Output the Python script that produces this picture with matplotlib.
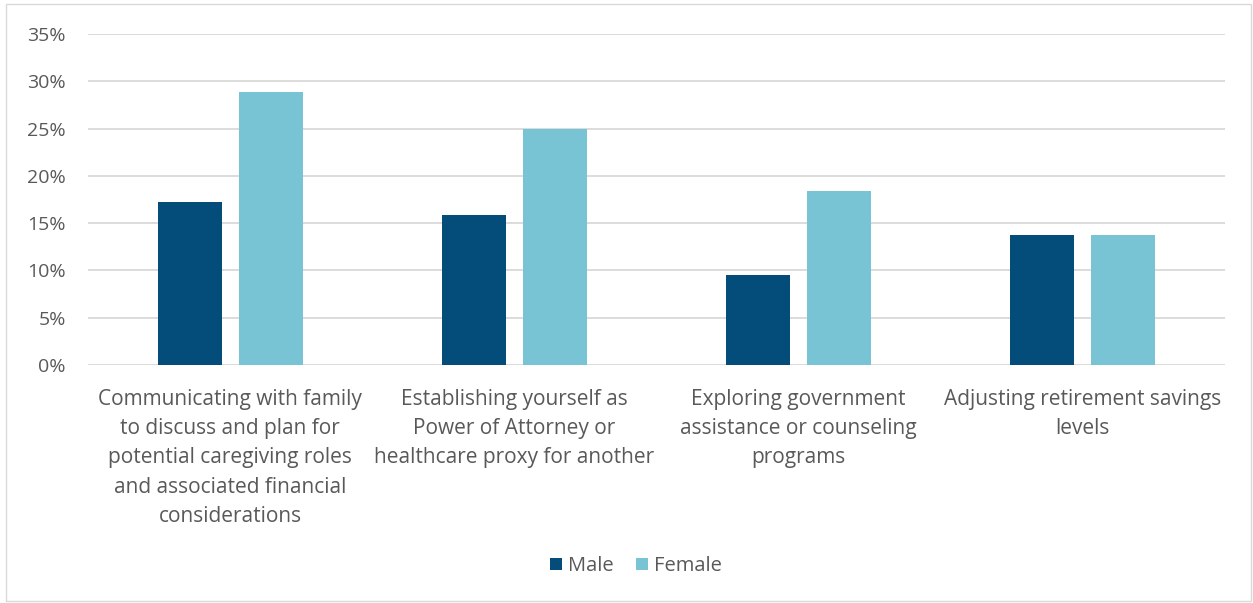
import matplotlib.pyplot as plt
import numpy as np
from matplotlib.patches import Rectangle

plt.rcParams['font.family'] = ['Open Sans', 'DejaVu Sans']

categories = [
    "Communicating with family\nto discuss and plan for\npotential caregiving roles\nand associated financial\nconsiderations",
    "Establishing yourself as\nPower of Attorney or\nhealthcare proxy for another",
    "Exploring government\nassistance or counseling\nprograms",
    "Adjusting retirement savings\nlevels",
]
male = [17.2, 15.9, 9.5, 13.7]
female = [28.9, 25.0, 18.4, 13.7]
yticks = [0, 5, 10, 15, 20, 25, 30, 35]

male_color = "#044C7A"
female_color = "#78C3D4"
text_color = "#595959"

fig = plt.figure(figsize=(12.53, 6.03), dpi=100)
ax = fig.add_axes([88 / 1253, 1 - 365 / 603, (1225 - 88) / 1253, (365 - 34) / 603])

x = np.arange(len(categories))
w = 0.225
gap = 0.06
ax.bar(x - (w + gap) / 2, male, w, color=male_color, label="Male", zorder=3)
ax.bar(x + (w + gap) / 2, female, w, color=female_color, label="Female", zorder=3)

ax.set_xlim(-0.5, len(categories) - 0.5)
ax.set_ylim(0, 35)
ax.set_yticks(yticks)
ax.set_yticklabels([f"{t}%" for t in yticks], fontsize=14, color=text_color)
ax.set_xticks(x)
ax.set_xticklabels(categories, fontsize=15, color=text_color, linespacing=1.52, va="top")
ax.tick_params(axis="both", length=0)
ax.tick_params(axis="y", pad=16)
ax.tick_params(axis="x", pad=17)
ax.grid(axis="y", color="#D9D9D9", linewidth=1.3, zorder=0)
for s in ax.spines.values():
    s.set_visible(False)

ax.legend(loc="center", bbox_to_anchor=(636 / 1253, 1 - 566 / 603), bbox_transform=fig.transFigure,
          ncol=2, frameon=False, fontsize=14.5, labelcolor=text_color, handlelength=0.6,
          handleheight=0.6, handletextpad=0.3, columnspacing=1.1)

# thin frame around the whole chart area
fig.patches.append(Rectangle((6 / 1253, 0.004), 1 - 8 / 1253, 1 - 0.01, transform=fig.transFigure,
                             fill=False, edgecolor="#D9D9D9", linewidth=1))

fig.savefig("out.png", dpi=100)
